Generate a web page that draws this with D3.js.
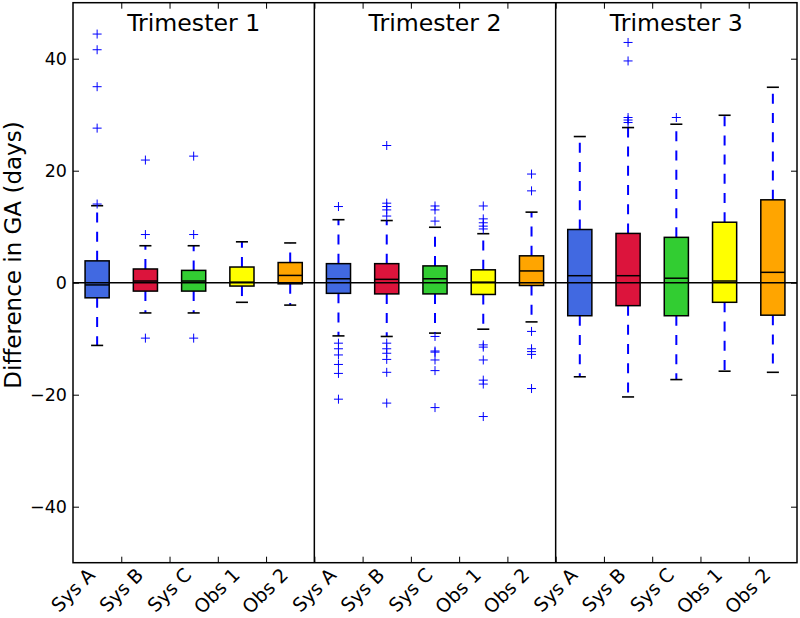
<!DOCTYPE html>
<html>
<head>
<meta charset="utf-8">
<script src="https://cdn.jsdelivr.net/npm/d3@7"></script>
<style>
  html, body { margin: 0; padding: 0; background: #fff; }
  svg { display: block; font-family: "DejaVu Sans", sans-serif; }
</style>
</head>
<body>
<svg id="chart" width="800" height="618"></svg>
<script>
// ---- data ----
const trimesters = ["Trimester 1", "Trimester 2", "Trimester 3"];
const categories = ["Sys A", "Sys B", "Sys C", "Obs 1", "Obs 2"];
const boxColors = ["#4169E1", "#DC143C", "#32CD32", "#FFFF00", "#FFA500"];
const yTicks = [-40, -20, 0, 20, 40];

// 15 boxes: trimester-major order
const whiskerLow  = [-11.2, -5.4, -5.4, -3.5, -4.0,   -9.5, -9.6, -9.0, -8.3, -7.0,   -16.8, -20.4, -17.3, -15.8, -16.0];
const q1          = [-2.7, -1.5, -1.5, -0.6, -0.2,    -1.9, -2.0, -2.0, -2.1, -0.5,   -5.9, -4.1, -5.9, -3.5, -5.8];
const medians     = [-0.4, 0.3, 0.3, 0.1, 1.3,        0.7, 0.6, 0.7, 0.1, 2.1,        1.25, 1.25, 0.8, 0.3, 1.85];
const q3          = [3.9, 2.45, 2.2, 2.8, 3.6,        3.4, 3.4, 3.0, 2.3, 4.8,        9.5, 8.8, 8.1, 10.8, 14.8];
const whiskerHigh = [13.75, 6.6, 6.6, 7.3, 7.1,       11.25, 11.1, 9.9, 8.75, 12.6,   26.1, 27.7, 28.3, 29.9, 34.9];
const outliers = [
  [44.4, 41.6, 35.0, 27.6, 14.05],
  [21.9, 8.6, -9.9],
  [22.6, 8.6, -9.9],
  [],
  [],
  [13.6, -10.8, -11.8, -12.9, -14.6, -16.2, -20.8],
  [24.5, 14.2, 13.6, 13.0, 11.9, -10.8, -11.8, -12.6, -13.7, -16.0, -21.5],
  [13.7, 13.0, 11.0, -9.6, -12.2, -12.4, -13.8, -15.7, -22.3],
  [13.7, 11.4, 10.7, 10.1, 9.6, -11.1, -11.5, -13.8, -17.4, -18.1, -23.9],
  [19.4, 16.4, -8.7, -11.8, -12.3, -12.8, -18.9],
  [],
  [42.9, 39.6, 29.5, 29.05, 28.6],
  [29.5],
  [],
  []
];

// ---- layout ----
const svg = d3.select("#chart");
const L = 73, R = 797, T = 2.7, B = 562.7;
const nBox = trimesters.length * categories.length;

const x = d3.scaleLinear().domain([0, nBox]).range([L, R]);
const y = d3.scaleLinear().domain([-50, 50]).range([B, T]);
const slot = x(1) - x(0);
const boxW = slot * 0.5;
const capW = boxW * 0.5;

const boxes = d3.range(nBox).map(i => ({
  i,
  pos: i + 0.5,
  color: boxColors[i % categories.length],
  label: categories[i % categories.length],
  wl: whiskerLow[i], q1: q1[i], med: medians[i], q3: q3[i], wh: whiskerHigh[i],
  out: outliers[i]
}));

const g = svg.append("g");

// whiskers (dashed, start at box edge)
g.selectAll(".wh-up").data(boxes).join("line")
  .attr("x1", d => x(d.pos)).attr("x2", d => x(d.pos))
  .attr("y1", d => y(d.q3)).attr("y2", d => y(d.wh))
  .attr("stroke", "#0000ff").attr("stroke-width", 2).attr("stroke-dasharray", "10,9.2");
g.selectAll(".wh-dn").data(boxes).join("line")
  .attr("x1", d => x(d.pos)).attr("x2", d => x(d.pos))
  .attr("y1", d => y(d.q1)).attr("y2", d => y(d.wl))
  .attr("stroke", "#0000ff").attr("stroke-width", 2).attr("stroke-dasharray", "10,9.2");

// caps
["wh", "wl"].forEach(k => {
  g.selectAll(".cap-" + k).data(boxes).join("line")
    .attr("x1", d => x(d.pos) - capW / 2).attr("x2", d => x(d.pos) + capW / 2)
    .attr("y1", d => y(d[k])).attr("y2", d => y(d[k]))
    .attr("stroke", "#000").attr("stroke-width", 1.6);
});

// boxes
g.selectAll(".box").data(boxes).join("rect")
  .attr("x", d => x(d.pos) - boxW / 2)
  .attr("width", boxW)
  .attr("y", d => y(d.q3))
  .attr("height", d => y(d.q1) - y(d.q3))
  .attr("fill", d => d.color)
  .attr("stroke", "#000").attr("stroke-width", 1.5);

// medians
g.selectAll(".med").data(boxes).join("line")
  .attr("x1", d => x(d.pos) - boxW / 2).attr("x2", d => x(d.pos) + boxW / 2)
  .attr("y1", d => y(d.med)).attr("y2", d => y(d.med))
  .attr("stroke", "#000").attr("stroke-width", 1.5);

// fliers '+'
const fl = boxes.flatMap(d => d.out.map(v => ({ pos: d.pos, v })));
const arm = 4.5;
g.selectAll(".fl").data(fl).join("path")
  .attr("d", d => {
    const cx = x(d.pos), cy = y(d.v);
    return `M${cx - arm},${cy}H${cx + arm}M${cx},${cy - arm}V${cy + arm}`;
  })
  .attr("stroke", "#0000ff").attr("stroke-width", 1).attr("fill", "none");

// zero line
svg.append("line")
  .attr("x1", L).attr("x2", R).attr("y1", y(0)).attr("y2", y(0))
  .attr("stroke", "#000").attr("stroke-width", 1.5);

// panel dividers
[1, 2].forEach(p => {
  svg.append("line")
    .attr("x1", x(p * categories.length)).attr("x2", x(p * categories.length))
    .attr("y1", T).attr("y2", B)
    .attr("stroke", "#000").attr("stroke-width", 1.5);
});

// axes
const boundaryTicks = d3.range(1, nBox);
const yAxisL = d3.axisLeft(y).tickValues(yTicks).tickSize(-6).tickPadding(6)
  .tickFormat(d3.format("d"));
const gyl = svg.append("g").attr("transform", `translate(${L},0)`).call(yAxisL);
gyl.select(".domain").remove();
gyl.selectAll("text").attr("font-size", 17.5).attr("font-family", "DejaVu Sans").attr("fill", "#000");
gyl.selectAll("line").attr("stroke", "#000");

const gyr = svg.append("g").attr("transform", `translate(${R},0)`)
  .call(d3.axisRight(y).tickValues(yTicks).tickSize(-6).tickFormat(""));
gyr.select(".domain").remove();
gyr.selectAll("line").attr("stroke", "#000");

const gxb = svg.append("g").attr("transform", `translate(0,${B})`)
  .call(d3.axisBottom(x).tickValues(boundaryTicks).tickSize(-6).tickFormat(""));
gxb.select(".domain").remove();
gxb.selectAll("line").attr("stroke", "#000");
const gxt = svg.append("g").attr("transform", `translate(0,${T})`)
  .call(d3.axisTop(x).tickValues(boundaryTicks).tickSize(-6).tickFormat(""));
gxt.select(".domain").remove();
gxt.selectAll("line").attr("stroke", "#000");

// x category labels (rotated)
svg.selectAll(".xl").data(boxes).join("text")
  .attr("transform", d => `translate(${x(d.pos) - 1},${B + 13.5}) rotate(-45)`)
  .attr("text-anchor", "end")
  .attr("font-size", 19)
  .attr("fill", "#000")
  .text(d => d.label);

// frame
svg.append("rect")
  .attr("x", L).attr("y", T).attr("width", R - L).attr("height", B - T)
  .attr("fill", "none").attr("stroke", "#000").attr("stroke-width", 1.5);

// panel titles
svg.selectAll(".title").data(trimesters).join("text")
  .attr("x", (d, i) => x(i * categories.length + categories.length / 2))
  .attr("y", 30.7)
  .attr("text-anchor", "middle")
  .attr("font-size", 23.6)
  .attr("fill", "#000")
  .text(d => d);

// y label
svg.append("text")
  .attr("transform", `translate(20.5,255) rotate(-90)`)
  .attr("text-anchor", "middle")
  .attr("font-size", 23)
  .attr("fill", "#000")
  .text("Difference in GA (days)");
</script>
</body>
</html>
